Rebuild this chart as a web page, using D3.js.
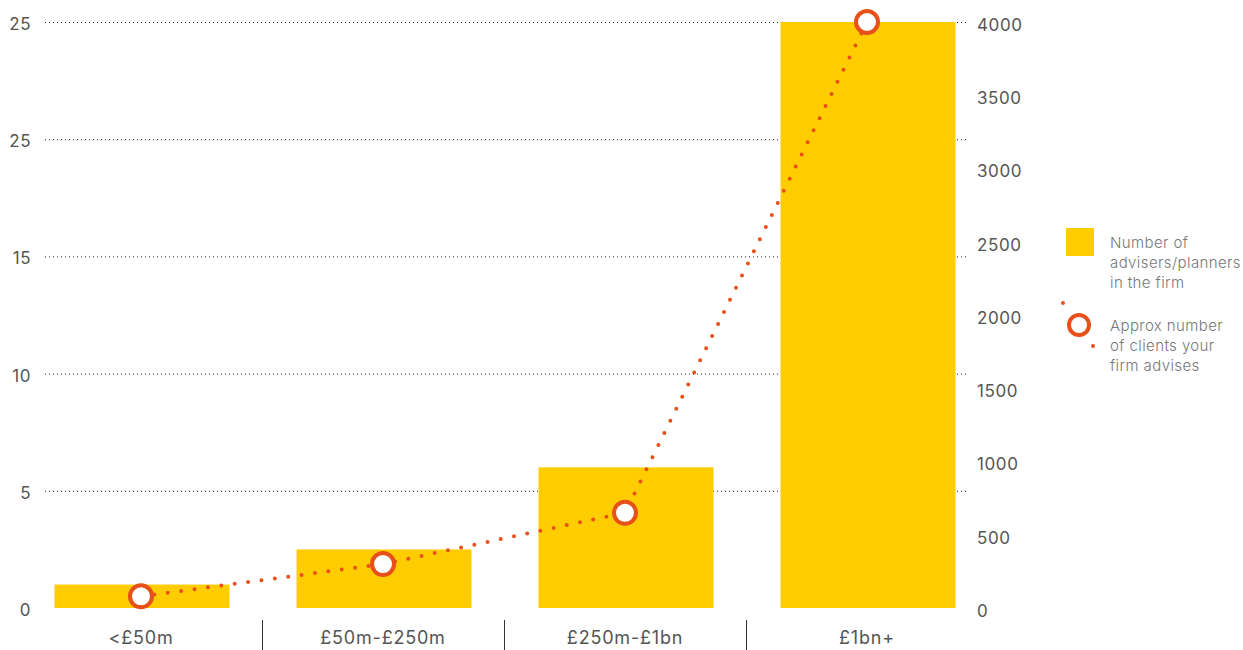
<!DOCTYPE html>
<html>
<head>
<meta charset="utf-8">
<script src="https://cdn.jsdelivr.net/npm/d3@7"></script>
<style>
  body { margin: 0; background: #fff; }
  text { font-family: "Inter", "Noto Sans", sans-serif; }
</style>
</head>
<body>
<div id="chart"></div>
<script>
// data
var categories = ['<£50m', '£50m-£250m', '£250m-£1bn', '£1bn+'];
var advisers = [1, 2.5, 6, 25];
var clients = [80, 300, 650, 4000];
var leftTicks = [0, 5, 10, 15, 20, 25];
var leftTickLabels = ['0', '5', '10', '15', '25', '25'];
var rightTicks = [0, 500, 1000, 1500, 2000, 2500, 3000, 3500, 4000];
var legendLabels = [
    ['Number of', 'advisers/planners', 'in the firm'],
    ['Approx number', 'of clients your', 'firm advises']
];

var width = 1243, height = 650;
var yellow = '#FFCC00', orange = '#E8501A';

var svg = d3.select('#chart').append('svg')
    .attr('width', width)
    .attr('height', height);

var x = d3.scaleBand().domain(categories).range([20, 988]);
var barW = x.bandwidth() * 0.723;
var yL = d3.scaleLinear().domain([0, 25]).range([608, 22]);
var yR = d3.scaleLinear().domain([0, 4000]).range([608, 22]);

// grid lines
svg.append('g').selectAll('line').data(leftTicks.slice(1))
    .join('line')
    .attr('x1', 45).attr('x2', 966)
    .attr('y1', d => yL(d) + 0.5).attr('y2', d => yL(d) + 0.5)
    .attr('stroke', '#222')
    .attr('stroke-width', 1)
    .attr('stroke-dasharray', '1,3');

// bars
svg.append('g').selectAll('rect').data(advisers)
    .join('rect')
    .attr('x', (d, i) => x(categories[i]) + (x.bandwidth() - barW) / 2 + 1)
    .attr('width', barW)
    .attr('y', d => yL(d))
    .attr('height', d => yL(0) - yL(d))
    .attr('fill', yellow);

// left axis labels
svg.append('g').selectAll('text').data(leftTicks)
    .join('text')
    .attr('x', 31)
    .attr('y', d => yL(d) + 2)
    .attr('dy', '0.35em')
    .attr('text-anchor', 'end')
    .attr('font-size', 17)
    .attr('letter-spacing', 0.5)
    .attr('fill', '#555')
    .text((d, i) => leftTickLabels[i]);

// right axis labels
svg.append('g').selectAll('text').data(rightTicks)
    .join('text')
    .attr('x', 977)
    .attr('y', d => yR(d) + 3)
    .attr('dy', '0.35em')
    .attr('font-size', 17)
    .attr('letter-spacing', 0.6)
    .attr('fill', '#555')
    .text(d => d);

// category axis
svg.append('g').selectAll('line').data(categories.slice(1))
    .join('line')
    .attr('x1', d => x(d) + 0.5).attr('x2', d => x(d) + 0.5)
    .attr('y1', 620).attr('y2', 650)
    .attr('stroke', '#333');

svg.append('g').selectAll('text').data(categories)
    .join('text')
    .attr('x', d => x(d) + x.bandwidth() / 2)
    .attr('y', 638)
    .attr('dy', '0.35em')
    .attr('text-anchor', 'middle')
    .attr('font-size', 18)
    .attr('letter-spacing', 0.8)
    .attr('fill', '#555')
    .text(d => d);

// client line (straight dotted segments)
var line = d3.line()
    .x((d, i) => x(categories[i]) + x.bandwidth() / 2)
    .y(d => yR(d));

svg.append('path')
    .datum(clients)
    .attr('d', line)
    .attr('fill', 'none')
    .attr('stroke', orange)
    .attr('stroke-width', 4)
    .attr('stroke-linecap', 'round')
    .attr('stroke-dasharray', '0,13.5');

svg.append('g').selectAll('circle').data(clients)
    .join('circle')
    .attr('cx', (d, i) => x(categories[i]) + x.bandwidth() / 2)
    .attr('cy', d => yR(d))
    .attr('r', 11)
    .attr('fill', '#fff')
    .attr('stroke', orange)
    .attr('stroke-width', 4);

// legend
var lg = svg.append('g');
lg.append('rect')
    .attr('x', 1066).attr('y', 228)
    .attr('width', 28).attr('height', 28)
    .attr('fill', yellow);
lg.append('circle').attr('cx', 1063).attr('cy', 303).attr('r', 2).attr('fill', orange);
lg.append('circle').attr('cx', 1093).attr('cy', 346).attr('r', 2).attr('fill', orange);
lg.append('circle')
    .attr('cx', 1079).attr('cy', 325).attr('r', 10)
    .attr('fill', '#fff')
    .attr('stroke', orange)
    .attr('stroke-width', 4);

legendLabels.forEach(function (lines, k) {
    var t = lg.append('text')
        .attr('x', 1110)
        .attr('y', k == 0 ? 248 : 331)
        .attr('font-size', 15)
        .attr('font-weight', 300)
        .attr('letter-spacing', 0.4)
        .attr('fill', '#777');
    lines.forEach(function (s, j) {
        t.append('tspan').attr('x', 1110).attr('dy', j == 0 ? 0 : 20).text(s);
    });
});
</script>
</body>
</html>
